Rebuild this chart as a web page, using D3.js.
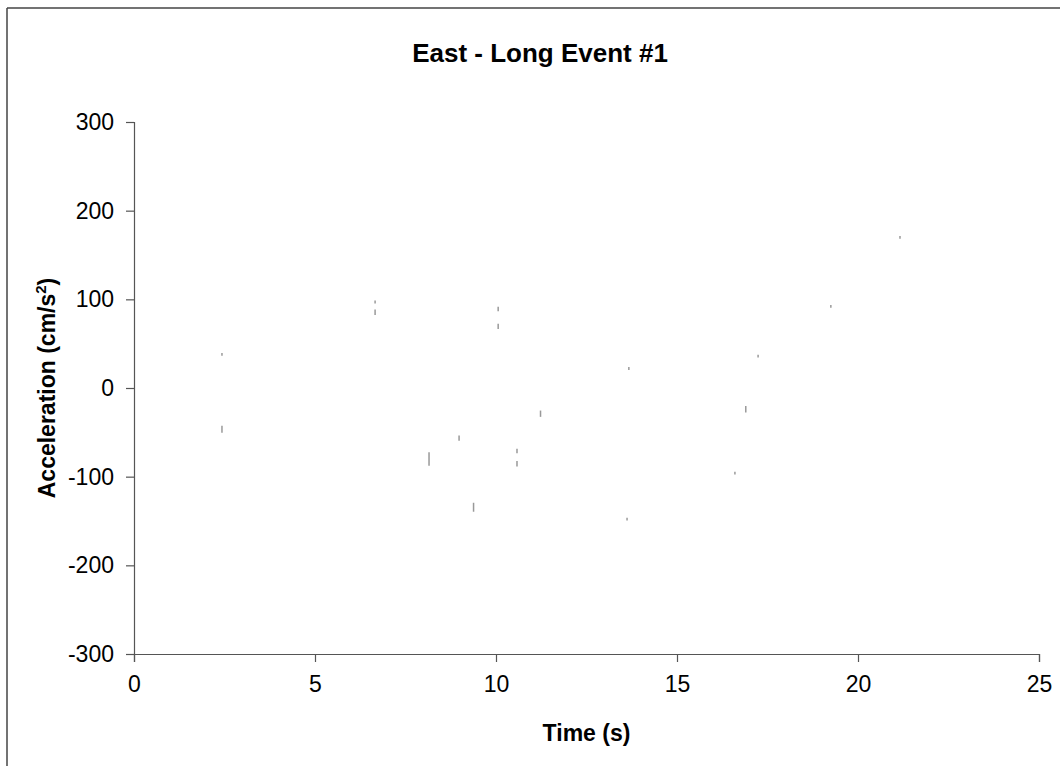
<!DOCTYPE html>
<html>
<head>
<meta charset="utf-8">
<script src="https://cdn.jsdelivr.net/npm/d3@7"></script>
<style>
  html, body { margin: 0; padding: 0; background: #fff; }
  svg { display: block; font-family: Arial, "Liberation Sans", sans-serif; }
</style>
</head>
<body>
<svg id="chart" width="1060" height="766"></svg>
<script>
// Chart text
const chartTitle = "East - Long Event #1";
const xTitle = "Time (s)";

// Axis ticks
const xTicks = [0, 5, 10, 15, 20, 25];
const yTicks = [-300, -200, -100, 0, 100, 200, 300];

// Recorded acceleration samples: time (s) and the upper/lower value (cm/s²) of each short trace fragment
const sampleTime = [2.43, 2.43, 6.66, 6.66, 10.06, 10.06, 8.98, 8.15, 10.58, 10.58, 9.38, 11.23, 13.67, 13.62, 16.60, 16.90, 17.24, 19.25, 21.16];
const sampleHigh = [39, -43, 98, 88, 91, 72, -54, -73, -69, -83, -130, -26, 23, -147, -95, -21, 37, 93, 171];
const sampleLow  = [37, -50, 96, 83, 87, 67, -59, -87, -73, -88, -139, -32, 21, -149, -97, -27, 35, 91, 169];

const svg = d3.select("#chart");
const plot = { left: 134, right: 1039, top: 122, bottom: 654 };

const x = d3.scaleLinear().domain([0, 25]).range([plot.left, plot.right]);
const y = d3.scaleLinear().domain([-300, 300]).range([plot.bottom, plot.top]);

// Outer frame (top and left edges)
svg.append("line").attr("x1", 7).attr("x2", 1060).attr("y1", 8).attr("y2", 8)
  .attr("stroke", "#444").attr("stroke-width", 1.5);
svg.append("line").attr("x1", 7).attr("x2", 7).attr("y1", 8).attr("y2", 766)
  .attr("stroke", "#444").attr("stroke-width", 1.5);

// Data fragments
svg.append("g").selectAll("line")
  .data(sampleTime.map((t, i) => ({ t, hi: sampleHigh[i], lo: sampleLow[i] })))
  .join("line")
  .attr("x1", d => x(d.t)).attr("x2", d => x(d.t))
  .attr("y1", d => y(d.hi) - 0.5).attr("y2", d => y(d.lo) + 0.5)
  .attr("stroke", "#999").attr("stroke-width", 1.5);

// Axes (plain hyphen for negative labels)
const plain = d => String(d);
const yAxis = d3.axisLeft(y).tickValues(yTicks).tickSize(8).tickPadding(12).tickFormat(plain);
const xAxis = d3.axisBottom(x).tickValues(xTicks).tickSize(8).tickPadding(14).tickFormat(plain);

const gy = svg.append("g").attr("transform", `translate(${plot.left},0)`).call(yAxis);
const gx = svg.append("g").attr("transform", `translate(0,${plot.bottom})`).call(xAxis);

[gx, gy].forEach(g => {
  g.select(".domain").attr("stroke", "#555").attr("stroke-width", 1.2);
  g.selectAll(".tick line").attr("stroke", "#555").attr("stroke-width", 1.2);
  g.selectAll(".tick text").attr("fill", "#000")
    .style("font-family", "Arial, 'Liberation Sans', sans-serif").style("font-size", "23px");
});

// Title
svg.append("text")
  .attr("x", 540).attr("y", 62)
  .attr("text-anchor", "middle")
  .style("font-size", "26px").style("font-weight", "bold")
  .text(chartTitle);

// X axis title
svg.append("text")
  .attr("x", (plot.left + plot.right) / 2).attr("y", 741)
  .attr("text-anchor", "middle")
  .style("font-size", "23px").style("font-weight", "bold")
  .text(xTitle);

// Y axis title with superscript
const yt = svg.append("text")
  .attr("transform", `translate(55,${(plot.top + plot.bottom) / 2}) rotate(-90)`)
  .attr("text-anchor", "middle")
  .style("font-size", "23px").style("font-weight", "bold");
yt.append("tspan").text("Acceleration (cm/s");
yt.append("tspan").attr("dy", -9).style("font-size", "15px").text("2");
yt.append("tspan").attr("dy", 9).text(")");
</script>
</body>
</html>
